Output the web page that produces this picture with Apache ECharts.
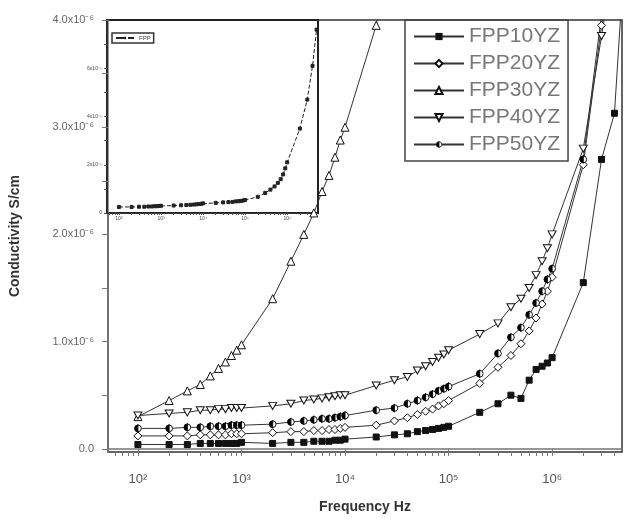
<!DOCTYPE html>
<html>
<head>
<meta charset="utf-8">
<script src="https://cdn.jsdelivr.net/npm/echarts@6/dist/echarts.min.js"></script>
<style>
html, body { margin: 0; padding: 0; background: #fff; }
#chart { width: 628px; height: 522px; }
</style>
</head>
<body>
<div id="chart"></div>
<script>
// frequency points (Hz)
const freq = [100, 200, 300, 400, 500, 600, 700, 800, 900, 1000,
	2000, 3000, 4000, 5000, 6000, 7000, 8000, 9000, 10000,
	20000, 30000, 40000, 50000, 60000, 70000, 80000, 90000, 100000,
	200000, 300000, 400000, 500000, 600000, 700000, 800000, 900000, 1000000,
	2000000, 3000000, 4000000, 5000000]

// conductivity, in units of 1e-6 S/cm
const fpp10 = [0.04, 0.04, 0.04, 0.05, 0.05, 0.05, 0.05, 0.05, 0.05, 0.06,
	0.05, 0.06, 0.06, 0.07, 0.07, 0.07, 0.08, 0.08, 0.09,
	0.11, 0.13, 0.14, 0.16, 0.17, 0.18, 0.19, 0.20, 0.21,
	0.34, 0.42, 0.50, 0.47, 0.64, 0.74, 0.77, 0.80, 0.85,
	1.55, 2.70, 3.13, 4.60]
const fpp20 = [0.12, 0.12, 0.12, 0.13, 0.13, 0.13, 0.13, 0.14, 0.14, 0.14,
	0.15, 0.16, 0.16, 0.17, 0.17, 0.18, 0.18, 0.19, 0.20,
	0.22, 0.26, 0.29, 0.32, 0.35, 0.37, 0.40, 0.42, 0.45,
	0.61, 0.76, 0.87, 0.98, 1.10, 1.22, 1.35, 1.47, 1.60,
	2.65, 3.95, 4.60, 5.30]
const fpp30 = [0.30, 0.45, 0.54, 0.60, 0.68, 0.75, 0.81, 0.87, 0.92, 0.97,
	1.40, 1.75, 2.00, 2.20, 2.40, 2.55, 2.72, 2.88, 3.00,
	3.95, 4.90]
const fpp40 = [0.31, 0.33, 0.34, 0.36, 0.36, 0.37, 0.37, 0.38, 0.38, 0.38,
	0.40, 0.42, 0.45, 0.46, 0.47, 0.48, 0.49, 0.50, 0.50,
	0.59, 0.64, 0.67, 0.73, 0.77, 0.81, 0.85, 0.88, 0.92,
	1.07, 1.17, 1.32, 1.40, 1.50, 1.62, 1.75, 1.87, 2.00,
	2.80, 3.85, 4.60, 5.30]
const fpp50 = [0.19, 0.19, 0.20, 0.20, 0.21, 0.21, 0.21, 0.22, 0.22, 0.22,
	0.23, 0.25, 0.26, 0.27, 0.28, 0.28, 0.29, 0.30, 0.31,
	0.36, 0.38, 0.42, 0.45, 0.48, 0.51, 0.54, 0.56, 0.58,
	0.70, 0.89, 1.04, 1.13, 1.25, 1.36, 1.47, 1.58, 1.68,
	2.70, 4.05, 4.70, 5.40]

// inset curve, in units of 1e-5 S/cm
const insetVals = [0.25, 0.25, 0.26, 0.26, 0.27, 0.27, 0.28, 0.28, 0.29, 0.30,
	0.31, 0.32, 0.33, 0.34, 0.35, 0.36, 0.37, 0.38, 0.40,
	0.42, 0.44, 0.45, 0.46, 0.48, 0.49, 0.50, 0.52, 0.54,
	0.67, 0.83, 0.97, 1.10, 1.25, 1.40, 1.60, 1.85, 2.10,
	3.5, 4.7, 6.1, 7.6]

const xLabels = [100, 1000, 10000, 100000, 1000000]
const yLabels = [0, 1, 2, 3, 4]
const yTickVals = [0, 0.5, 1, 1.5, 2, 2.5, 3, 3.5, 4]
const insetYLabels = [0, 2, 4, 6]
const insetYTicks = [0, 1, 2, 3, 4, 5, 6, 7]

// minor ticks at 2..9 of each decade
let xMinor = []
for (let d = 10; d <= 1000000; d *= 10) {
	for (let k = 2; k <= 9; k++) xMinor.push(d * k)
}

const supMap = { "0": "⁰", "1": "¹", "2": "²", "3": "³", "4": "⁴", "5": "⁵", "6": "⁶", "-": "⁻" }
const pow10 = v => "10" + String(Math.round(Math.log10(v))).split("").map(c => supMap[c]).join("")

const zip = ys => ys.map((y, i) => [freq[i], y])

const halfCircle = "image://data:image/svg+xml;charset=utf-8," + encodeURIComponent(
	"<svg xmlns='http://www.w3.org/2000/svg' width='20' height='20'>" +
	"<circle cx='10' cy='10' r='7.5' fill='white' stroke='black' stroke-width='2'/>" +
	"<path d='M10 2.5 A7.5 7.5 0 0 0 10 17.5 Z' fill='black'/>" +
	"<line x1='10' y1='0' x2='10' y2='20' stroke='black' stroke-width='2'/></svg>")

const lineCol = "#333"
const base = {
	type: "line",
	xAxisIndex: 0,
	yAxisIndex: 0,
	symbolSize: 7,
	lineStyle: { color: lineCol, width: 1 },
	itemStyle: { color: "#fff", borderColor: "#111", borderWidth: 1 },
	animation: false
}

let chart = echarts.init(document.getElementById("chart"))

let option = {
	backgroundColor: "#fff",
	textStyle: { fontFamily: "Liberation Sans, Arial, sans-serif" },
	grid: [
		{ left: 107, right: 6, top: 20, bottom: 70, show: true, borderColor: "#333", borderWidth: 1.5 },
		{ left: 107, right: 310, top: 20, bottom: 309, show: true, borderColor: "#222", borderWidth: 2, backgroundColor: "#fff" }
	],
	legend: [
		{
			data: ["FPP10YZ", "FPP20YZ", "FPP30YZ", "FPP40YZ", "FPP50YZ"],
			orient: "vertical",
			left: 405,
			top: 20,
			itemWidth: 50,
			itemHeight: 9,
			itemGap: 6,
			padding: [6, 8, 6, 8],
			borderColor: "#444",
			borderWidth: 1.5,
			textStyle: { fontSize: 21, color: "#777" }
		},
		{
			data: ["FPP"],
			left: 112,
			top: 33,
			itemWidth: 18,
			itemHeight: 3,
			padding: [2, 3, 2, 3],
			borderColor: "#333",
			borderWidth: 1.5,
			textStyle: { fontSize: 6, color: "#444" }
		}
	],
	xAxis: [
		{
			type: "log",
			gridIndex: 0,
			min: 51.4,
			max: 4730000,
			position: "bottom",
			name: "Frequency Hz",
			nameLocation: "middle",
			nameGap: 48,
			nameTextStyle: { fontSize: 14, fontWeight: "bold", color: "#333" },
			axisLine: { lineStyle: { color: "#777", width: 1.5 } },
			axisTick: { customValues: xLabels, length: 7, lineStyle: { color: "#777" } },
			axisLabel: { customValues: xLabels, formatter: pow10, margin: 21, fontSize: 13, color: "#555" },
			splitLine: { show: false }
		},
		{
			type: "log",
			gridIndex: 0,
			min: 51.4,
			max: 4730000,
			position: "bottom",
			axisLine: { show: false },
			axisTick: { customValues: xMinor, length: 4, lineStyle: { color: "#777" } },
			axisLabel: { show: false },
			splitLine: { show: false }
		},
		{
			type: "log",
			gridIndex: 1,
			min: 52,
			max: 5400000,
			axisLine: { lineStyle: { color: "#333" } },
			axisTick: { customValues: xMinor.concat(xLabels), length: 2, lineStyle: { color: "#555" } },
			axisLabel: { customValues: xLabels, formatter: pow10, margin: 3, fontSize: 5, color: "#444" },
			splitLine: { show: false }
		}
	],
	yAxis: [
		{
			type: "value",
			gridIndex: 0,
			min: -0.03,
			max: 4,
			name: "Conductivity S/cm",
			nameLocation: "middle",
			nameGap: 86,
			nameTextStyle: { fontSize: 14, fontWeight: "bold", color: "#333" },
			axisLine: { show: true, lineStyle: { color: "#777", width: 1.5 } },
			axisTick: { show: true, customValues: yTickVals, length: 6, lineStyle: { color: "#777" } },
			axisLabel: {
				customValues: yLabels,
				formatter: v => (v === 0 ? "0.0" : v.toFixed(1) + "x10⁻⁶"),
				margin: 14,
				fontSize: 11,
				color: "#666"
			},
			splitLine: { show: false }
		},
		{
			type: "value",
			gridIndex: 1,
			min: 0,
			max: 8,
			axisLine: { show: true, lineStyle: { color: "#333" } },
			axisTick: { show: true, customValues: insetYTicks, length: 3, lineStyle: { color: "#555" } },
			axisLabel: {
				customValues: insetYLabels,
				formatter: v => (v === 0 ? "0" : v + "x10⁻⁵"),
				margin: 5,
				fontSize: 5,
				color: "#444"
			},
			splitLine: { show: false }
		}
	],
	series: [
		{ ...base, name: "FPP10YZ", data: zip(fpp10), symbol: "rect", symbolSize: 6, itemStyle: { color: "#111", borderColor: "#111" } },
		{ ...base, name: "FPP20YZ", data: zip(fpp20), symbol: "diamond", symbolSize: 8 },
		{ ...base, name: "FPP30YZ", data: zip(fpp30), symbol: "triangle", symbolSize: 8 },
		{ ...base, name: "FPP40YZ", data: zip(fpp40), symbol: "path://M0,0L10,0L5,9Z", symbolSize: [8, 7] },
		{ ...base, name: "FPP50YZ", data: zip(fpp50), symbol: halfCircle, symbolSize: 9 },
		{
			...base,
			name: "FPP",
			xAxisIndex: 2,
			yAxisIndex: 1,
			data: zip(insetVals),
			symbol: "rect",
			symbolSize: 3,
			lineStyle: { color: "#222", width: 1, type: "dashed" },
			itemStyle: { color: "#222", borderColor: "#222" }
		}
	]
}

chart.setOption(option)
</script>
</body>
</html>
